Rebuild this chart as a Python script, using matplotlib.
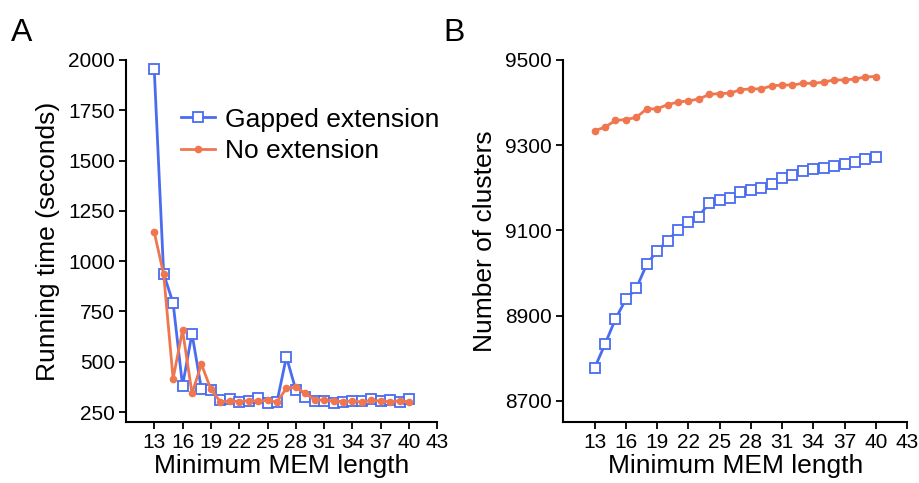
import matplotlib
matplotlib.use("Agg")
import matplotlib.pyplot as plt

plt.rcParams["font.family"] = ["Liberation Sans", "DejaVu Sans"]

mem_length = list(range(13, 41))

# Panel A: running time (seconds)
time_gapped = [1955, 937, 792, 381, 640, 363, 360, 310, 315, 300, 307, 318, 294, 300,
               524, 360, 323, 305, 305, 297, 302, 305, 305, 313, 305, 310, 302, 315]
time_noext = [1144, 935, 416, 657, 343, 488, 363, 302, 305, 302, 307, 305, 308, 300,
              368, 373, 343, 310, 310, 305, 302, 305, 300, 308, 305, 302, 305, 302]

# Panel B: number of clusters
clusters_gapped = [8777, 8833, 8892, 8938, 8964, 9020, 9052, 9074, 9102, 9119, 9132, 9165,
                   9172, 9176, 9190, 9194, 9200, 9209, 9223, 9231, 9240, 9243, 9246, 9251,
                   9255, 9260, 9268, 9271]
clusters_noext = [9334, 9342, 9358, 9360, 9365, 9385, 9385, 9395, 9401, 9404, 9408, 9419,
                  9421, 9422, 9430, 9432, 9432, 9439, 9441, 9441, 9445, 9445, 9448, 9453,
                  9453, 9455, 9460, 9461]

xticks = list(range(13, 44, 3))
BLUE = "#4a6cf0"
ORANGE = "#f07650"

fig = plt.figure(figsize=(9.19, 4.83), dpi=100)
axA = fig.add_axes([0.137, 0.126, 0.339, 0.750])
axB = fig.add_axes([0.613, 0.126, 0.374, 0.750])


def style(ax):
    for side in ("top", "right"):
        ax.spines[side].set_visible(False)
    for side in ("left", "bottom"):
        ax.spines[side].set_linewidth(1.5)
    ax.tick_params(direction="out", length=5, width=1.3, labelsize=15, pad=3)
    ax.set_xticks(xticks)
    ax.set_xlim(10, 43)
    ax.set_xlabel("Minimum MEM length", fontsize=19, labelpad=1)


blue_kw = dict(color=BLUE, lw=2, marker="s", ms=6.5, mfc="white", mec=BLUE, mew=1.3)
orange_kw = dict(color=ORANGE, lw=2, marker="o", ms=4.5, mec=ORANGE)

axA.plot(mem_length, time_gapped, label="Gapped extension", zorder=3, **blue_kw)
axA.plot(mem_length, time_noext, label="No extension", zorder=4, **orange_kw)
style(axA)
axA.set_ylim(200, 2000)
axA.set_yticks([250, 500, 750, 1000, 1250, 1500, 1750, 2000])
axA.set_ylabel("Running time (seconds)", fontsize=19, labelpad=6)
axA.legend(loc="upper left", bbox_to_anchor=(0.135, 0.905), frameon=False, fontsize=19,
           handlelength=1.3, handletextpad=0.35, labelspacing=0.3, borderpad=0)

axB.plot(mem_length, clusters_gapped, zorder=3, **blue_kw)
axB.plot(mem_length, clusters_noext, zorder=4, **orange_kw)
style(axB)
axB.set_ylim(8650, 9500)
axB.set_yticks([8700, 8900, 9100, 9300, 9500])
axB.set_ylabel("Number of clusters", fontsize=19, labelpad=6)

fig.text(0.012, 0.915, "A", fontsize=23)
fig.text(0.482, 0.915, "B", fontsize=23)

fig.savefig("out.png", dpi=100)
